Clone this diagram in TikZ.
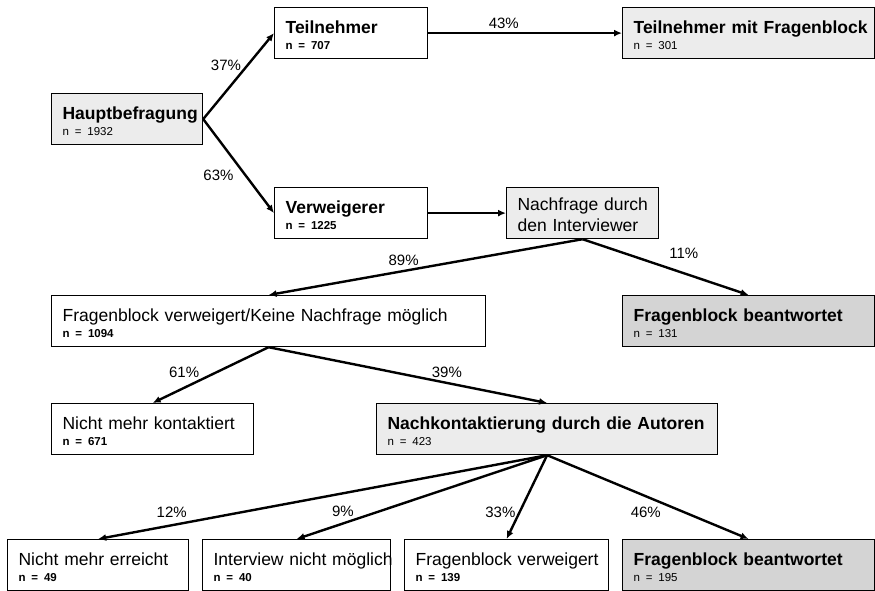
\documentclass[tikz,border=0pt]{standalone}
\usepackage{fontspec}
\setmainfont{Liberation Sans}
\usetikzlibrary{arrows.meta}
\definecolor{paleg}{RGB}{236,236,236}
\definecolor{deepg}{RGB}{212,212,212}
\hyphenpenalty=10000
\exhyphenpenalty=10000
\newcommand{\nline}[1]{{\fontsize{11.5}{16}\selectfont #1}}
\tikzset{
  box/.style={draw=black, line width=1.2pt, fill=white, anchor=north west,
              inner xsep=11pt, inner ysep=0pt, minimum height=51pt, align=left,
              font=\fontsize{17.5}{16}\selectfont,
              execute at begin node=\rule{0pt}{16.5pt}},
  pale/.style={box, fill=paleg},
  deep/.style={box, fill=deepg},
  flow/.style={-{Latex[length=8pt,width=7pt]}, line width=2.4pt},
  pct/.style={font=\fontsize{15}{18}\selectfont, inner sep=2pt},
}

\begin{document}
\begin{tikzpicture}[x=1pt, y=-1pt]
    \useasboundingbox (0,0) rectangle (875,591);
    \node[pale, text width=129pt] (haupt) at (51,93) {\textbf{Hauptbefragung}\\\nline{n = 1932}};
    \node[box, text width=131pt] (teil) at (274,7) {\textbf{Teilnehmer}\\\nline{\textbf{n = 707}}};
    \node[pale, text width=230pt] (tmf) at (622,7) {\textbf{Teilnehmer~mit~Fragenblock}\\\nline{n = 301}};
    \node[box, text width=131pt] (verw) at (274,187) {\textbf{Verweigerer}\\\nline{\textbf{n = 1225}}};
    \node[pale, text width=130pt, font=\fontsize{17.5}{21}\selectfont] (nach) at (506,187) {Nachfrage~durch\\den~Interviewer};
    \node[box, text width=412pt] (fvkn) at (51,295) {Fragenblock verweigert/Keine Nachfrage möglich\\\nline{\textbf{n = 1094}}};
    \node[deep, text width=230pt] (fbja) at (622,295) {\textbf{Fragenblock~beantwortet}\\\nline{n = 131}};
    \node[box, text width=180pt] (nmk) at (51,403) {Nicht~mehr~kontaktiert\\\nline{\textbf{n = 671}}};
    \node[pale, text width=319pt] (nka) at (376,403) {\textbf{Nachkontaktierung~durch~die~Autoren}\\\nline{n = 423}};
    % letzte Reihe
    \node[box, text width=159pt] (nme) at (7,539) {Nicht~mehr~erreicht\\\nline{\textbf{n = 49}}};
    \node[box, text width=166pt] (intv) at (202,539) {Interview~nicht~möglich\\\nline{\textbf{n = 40}}};
    \node[box, text width=182pt] (fbv) at (404,539) {Fragenblock~verweigert\\\nline{\textbf{n = 139}}};
    \node[deep, text width=230pt] (fbja2) at (622,539) {\textbf{Fragenblock~beantwortet}\\\nline{n = 195}};

    \draw[flow] (haupt.east) -- (teil.west) node[pct, pos=.55, anchor=south east, inner sep=0pt] {37\%};
    \draw[flow] (haupt.east) -- (verw.west) node[pct, pos=.6, left=9pt] {63\%};
    \draw[flow] (teil.east) -- (tmf.west) node[pct, pos=.39, above=1pt] {43\%};
    \draw[flow] (verw.east) -- (nach.west);
    \draw[flow] (nach.south) -- (fvkn.north) node[pct, pos=.57, above=2pt] {89\%};
    \draw[flow] (nach.south) -- (fbja.north) node[pct, pos=.61, above=11pt] {11\%};
    \draw[flow] (fvkn.south) -- (nmk.north) node[pct, pos=.58, anchor=south east, inner sep=1pt] {61\%};
    \draw[flow] (fvkn.south) -- (nka.north) node[pct, pos=.64, above=2pt] {39\%};
    \draw[flow] (nka.south) -- (nme.north) node[pct, pos=.836, above=4pt] {12\%};
    \draw[flow] (nka.south) -- (intv.north) node[pct, pos=.815, above=4pt] {9\%};
    \draw[flow] (nka.south) -- (fbv.north) node[pct, pos=.68, left=1pt] {33\%};
    \draw[flow] (nka.south) -- (fbja2.north) node[pct, pos=.58, anchor=north east] {46\%};
  \end{tikzpicture}
\end{document}
